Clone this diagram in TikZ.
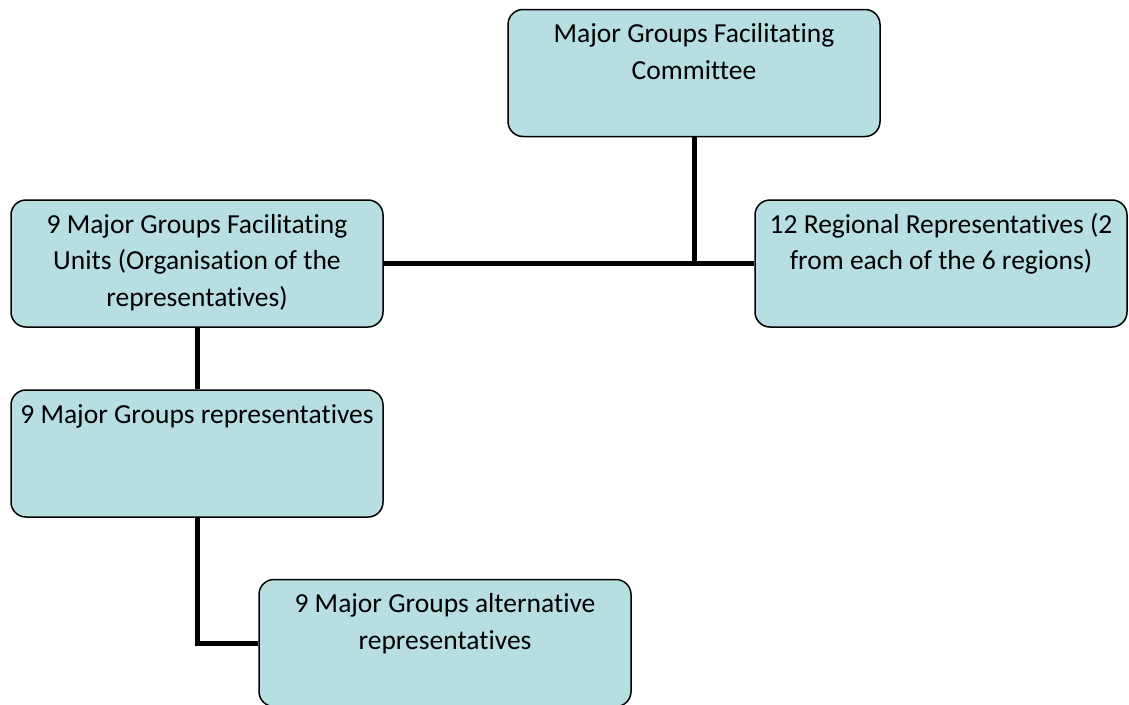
\documentclass[tikz,border=0pt]{standalone}
\usepackage{fontspec}
\setmainfont{Carlito}[Ligatures=NoCommon]
\definecolor{boxfill}{RGB}{183,222,225}
\newcommand{\boxtext}[1]{\parbox[c][127pt][t]{366pt}{\centering\rule{0pt}{33pt}#1}}
\tikzset{
  orgbox/.style={draw,fill=boxfill,line width=1.5pt,rounded corners=15pt,
    minimum width=372pt,minimum height=127pt,inner sep=0pt,
    font=\fontsize{27.5}{36.5}\selectfont},
  link/.style={line width=5pt}
}
\begin{document}
\begin{tikzpicture}[x=1pt,y=-1pt]
\useasboundingbox (0,0) rectangle (1129,704);
\node[orgbox] (committee) at (694,73) {\boxtext{Major Groups Facilitating\\Committee}};
\node[orgbox] (units) at (197,263.5) {\boxtext{9 Major Groups Facilitating\\Units (Organisation of the\\representatives)}};
\node[orgbox] (regional) at (941,263.5) {\boxtext{12 Regional Representatives (2\\from each of the 6 regions)}};
\node[orgbox] (reps) at (197,453.5) {\boxtext{9 Major Groups representatives}};
\node[orgbox] (alternates) at (445,643) {\boxtext{9 Major Groups alternative\\representatives}};
\draw[link] (units.east) -- (regional.west);
\draw[link] (committee.south) -- (committee.south |- units.east);
\draw[link] (units.south) -- (reps.north);
\draw[link] (reps.south) |- (alternates.west);
\end{tikzpicture}
\end{document}
